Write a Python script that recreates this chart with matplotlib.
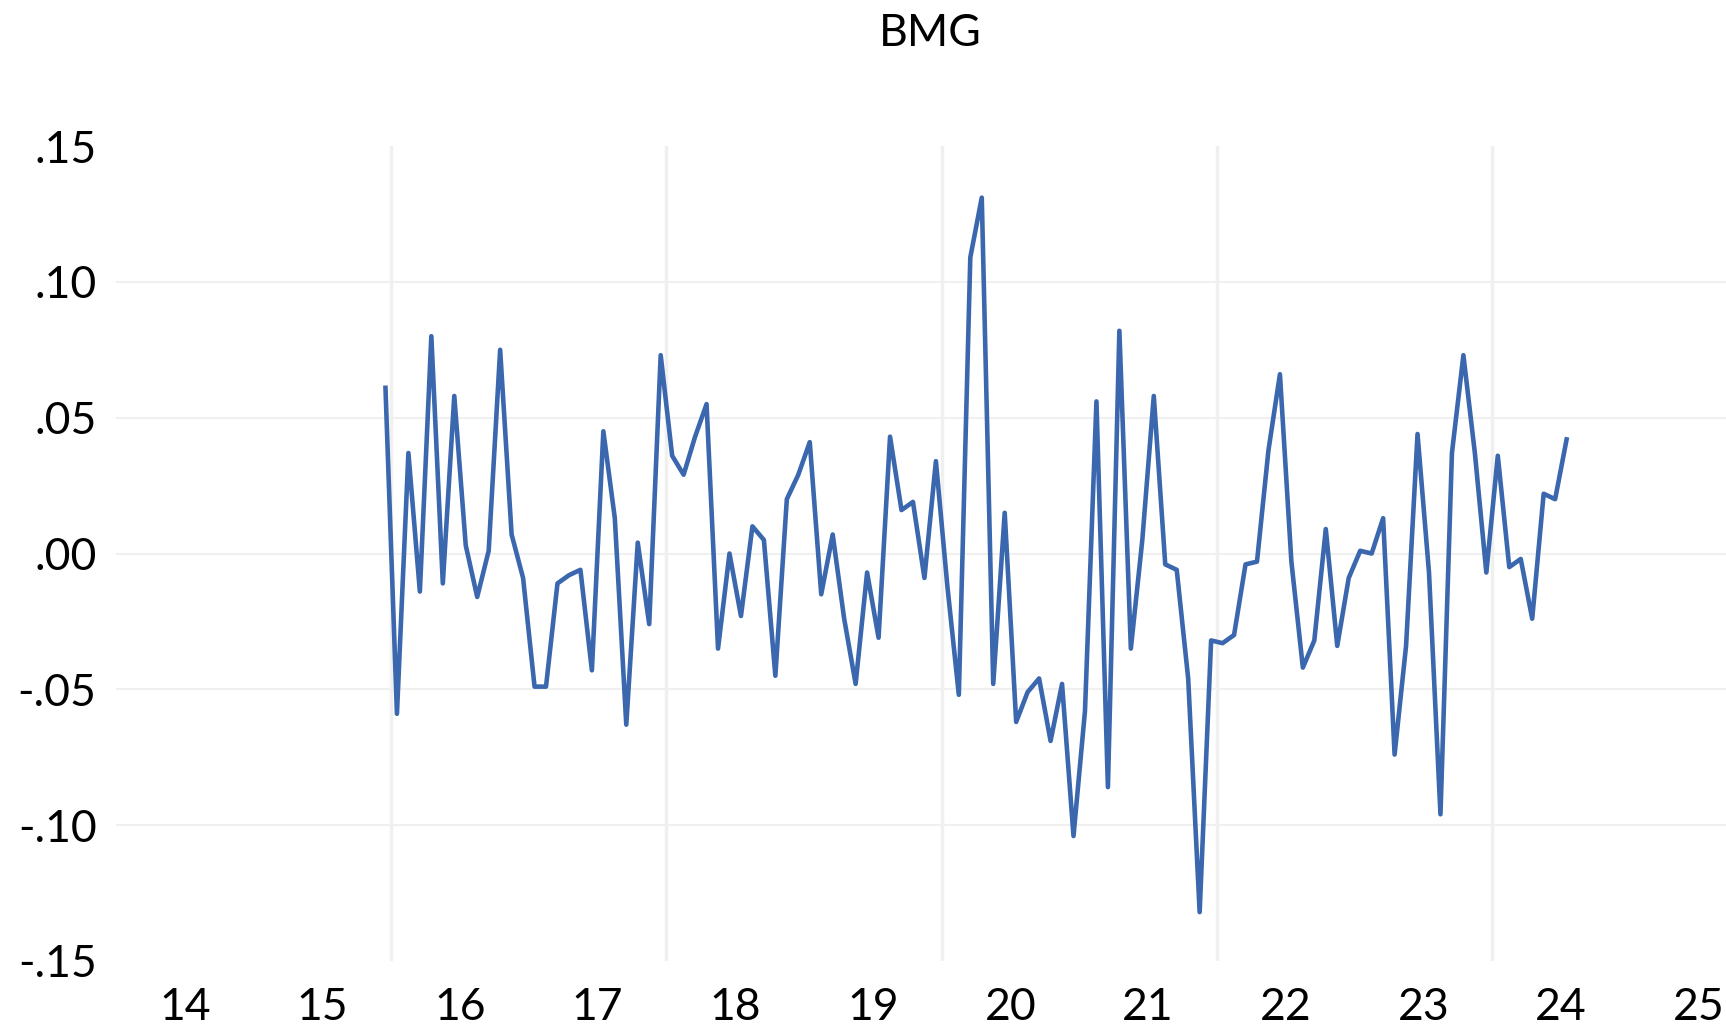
import numpy as np
import pandas as pd
import matplotlib
matplotlib.use("Agg")
import matplotlib.pyplot as plt
from matplotlib.ticker import FuncFormatter

# Monthly BMG values, Dec 2015 .. Jul 2024
start_month = "2015-12"
end_month = "2024-07"
bmg = [
    0.061, -0.059, 0.037, -0.014, 0.080, -0.011, 0.058, 0.003, -0.016, 0.001,
    0.075, 0.007, -0.009, -0.049, -0.049, -0.011, -0.008, -0.006, -0.043, 0.045,
    0.013, -0.063, 0.004, -0.026, 0.073, 0.036, 0.029, 0.043, 0.055, -0.035,
    0.000, -0.023, 0.010, 0.005, -0.045, 0.020, 0.029, 0.041, -0.015, 0.007,
    -0.024, -0.048, -0.007, -0.031, 0.043, 0.016, 0.019, -0.009, 0.034, -0.012,
    -0.052, 0.109, 0.131, -0.048, 0.015, -0.062, -0.051, -0.046, -0.069, -0.048,
    -0.104, -0.058, 0.056, -0.086, 0.082, -0.035, 0.005, 0.058, -0.004, -0.006,
    -0.046, -0.132, -0.032, -0.033, -0.030, -0.004, -0.003, 0.038, 0.066, -0.003,
    -0.042, -0.032, 0.009, -0.034, -0.009, 0.001, 0.000, 0.013, -0.074, -0.034,
    0.044, -0.007, -0.096, 0.037, 0.073, 0.037, -0.007, 0.036, -0.005, -0.002,
    -0.024, 0.022, 0.020, 0.042,
]

year_labels = ["14", "15", "16", "17", "18", "19", "20", "21", "22", "23", "24", "25"]
first_year = 2014
grid_years = [2016, 2018, 2020, 2022, 2024]
y_ticks = [-0.15, -0.10, -0.05, 0.00, 0.05, 0.10, 0.15]

# months placed in the middle of their slot on a fractional-year axis
months = pd.period_range(start_month, end_month, freq="M")
t = months.year + (months.month - 0.5) / 12

plt.rcParams["font.family"] = ["Lato", "DejaVu Sans"]

fig = plt.figure(figsize=(17.26, 10.32), dpi=100)
ax = fig.add_axes([0.0672, 0.0688, 0.9328, 0.7897])

ax.plot(t, bmg, color="#3a67ae", linewidth=3.3)

ax.set_xlim(first_year, 2025.70)
ax.set_ylim(-0.15, 0.15)

# labels centred on each year, grid at every other year boundary
centers = [first_year + i + 0.5 for i in range(len(year_labels))]
ax.set_xticks(centers, year_labels)
ax.set_xticks(grid_years, minor=True)
ax.set_yticks(y_ticks)
ax.yaxis.set_major_formatter(
    FuncFormatter(lambda v, _: f"{v:.2f}".replace("0.", ".")))

ax.tick_params(axis="both", which="both", length=0, labelsize=32, colors="black")
ax.tick_params(axis="y", pad=14)
ax.tick_params(axis="x", pad=19)

ax.grid(axis="y", which="major", color="#f0f0f0", linewidth=1.5)
ax.grid(axis="x", which="minor", color="#f0f0f0", linewidth=2.5)
ax.grid(axis="x", which="major", visible=False)
# no grid line on the top and bottom edge
gl = ax.get_ygridlines()
gl[0].set_visible(False)
gl[-1].set_visible(False)
ax.set_axisbelow(True)
for s in ax.spines.values():
    s.set_visible(False)

fig.text(930 / 1726, 1 - 33 / 1032, "BMG", ha="center", va="center",
         fontsize=32, color="black")

fig.savefig("out.png", dpi=100)
